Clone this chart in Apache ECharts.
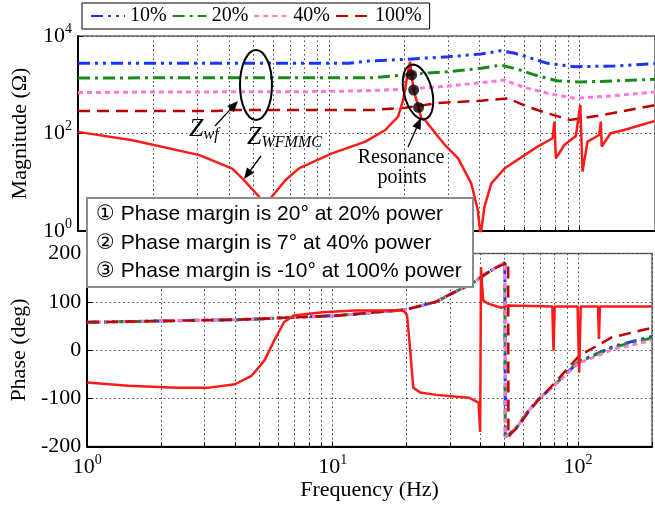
<!DOCTYPE html>
<html>
<head>
<meta charset="utf-8">
<script src="https://cdn.jsdelivr.net/npm/echarts@6/dist/echarts.min.js"></script>
<style>
	html, body {margin: 0; padding: 0; background: #fff;}
	#main {width: 655px; height: 508px;}
</style>
</head>
<body>
<div id="main"></div>
<script>
	// ---- magnitude (Ohm) ----
	var f10m = [1, 12, 14.4, 20.2, 30, 40.5, 48.6, 55.2, 66.3, 74.6, 95.5, 137, 200];
	var m10 = [2750, 2750, 3070, 3330, 3760, 4270, 5000, 4420, 3330, 2750, 2345, 2425, 2700];
	var f20m = [1, 15, 24, 30, 40.5, 48.6, 58, 66, 74.6, 81, 100, 137, 200];
	var m20 = [1380, 1400, 1720, 1850, 2175, 2540, 2000, 1600, 1355, 1210, 1140, 1195, 1300];
	var f40m = [1, 2, 8, 13, 20, 30, 40.5, 50, 60, 74.6, 95.5, 137, 200];
	var m40 = [690, 710, 720, 745, 807, 942, 1100, 1250, 887, 668, 527, 596, 710];
	var f100m = [1, 3.6, 4.0, 15, 20.2, 27, 40.5, 52, 62, 74.6, 91.5, 117, 200];
	var m100 = [290, 290, 303, 305, 338, 420, 471, 526, 355, 260, 190, 228, 380];
	var fWm = [1, 1.65, 3.05, 4.12, 4.52, 5.28, 5.57, 5.87, 6.73, 7.6, 10.3, 14.0, 16.8, 18.9, 19.8, 20.6, 21.1, 21.4, 21.8, 22.8, 23.4, 24.2, 27.3, 29.1, 32.8, 37.0, 39.3, 40.3, 41.8, 44.5, 50.3, 60.4, 68.1, 78.1, 79.4, 80.5, 87, 96.7, 100.7, 102.8, 107.6, 119.8, 121.6, 122.6, 133.1, 150.4, 200];
	var mW = [108, 73, 36, 19, 12, 5.0, 2.0, 4.75, 11.1, 19.3, 39, 68, 118, 221, 487, 1585, 2970, 1590, 780, 343, 205, 189, 86, 58, 31, 9.5, 2.7, 0.8, 3.15, 9.5, 19.3, 36, 54, 80, 175, 31, 58, 89, 385, 16.5, 68, 93, 175, 54, 101, 118, 180];
	// resonance points
	var resFreq = [21.4, 21.8, 22.8];
	var resMag = [1590, 780, 343];

	// ---- phase (deg) ----
	var fGp = [1, 4.26, 10.6, 20, 26.4, 30, 37, 41.8, 46, 50.3, 50.5, 53, 56.7, 62, 68, 81, 100, 140, 200];
	var p10 = [57.5, 63, 71.5, 84, 100, 115, 138, 157, 170, 181, -180, -172, -158, -130, -105, -70, -25, 8, 28];
	var p20 = [57.5, 63, 71.5, 84, 100, 115, 138, 157, 170, 181, -180, -172, -158, -130, -105, -70, -25, 6, 25];
	var p40 = [57.5, 63, 71.5, 84, 100, 115, 138, 157, 170, 181, -180, -172, -158, -130, -105, -71, -28, 2, 20];
	var f100p = [1, 4.26, 10.6, 20, 26.4, 30, 37, 41.8, 46, 51.9, 52.0, 53, 56.7, 62, 68, 81, 101, 137, 200];
	var p100 = [57.5, 63, 71.5, 84, 100, 115, 138, 157, 170, 182, -180, -175, -160, -132, -107, -66, -12, 26, 46];
	var fWp = [1, 1.47, 2.32, 3.14, 4.0, 4.67, 5.27, 5.77, 6.33, 6.93, 9.1, 12.3, 18.9, 19.6, 20.1, 20.7, 21.3, 22.7, 26.4, 36, 39.3, 39.8, 39.9, 40.2, 41, 43, 48.6, 50.5, 52, 78.5, 79.4, 80.3, 99.5, 101, 102.5, 120.5, 121.6, 122.7, 200];
	var pW = [-67.5, -74, -78, -78, -71, -53.5, -22, 19, 57.5, 71.5, 78, 82, 82, 80, 71.5, -1.5, -78, -88, -93, -99, -109, -110, -170, 172, 103, 96, 87.5, 90, 92, 90, -1.5, 90, 90, -47, 90, 90, 23, 90, 90];

	var legendNames = ['10%', '20%', '40%', '100%'];
	var lineColors = ['#1a33ff', '#1a8a1a', '#ff77dd', '#c00000'];
	var lineDash = [[12, 5, 3, 5, 3, 5], [12, 5, 3, 5], [5, 4], [12, 7]];
	var lineWidths = [3, 3, 3, 2.5];

	var serif = '"Liberation Serif", "Times New Roman", serif';
	var sans = '"Liberation Sans", Arial, "DejaVu Sans", sans-serif';

	function pairs(f, v) {
		return f.map(function(x, i) { return [x, v[i]]; });
	}

	function pow10Label(v) {
		var e = Math.log10(v);
		if (Math.abs(e - Math.round(e)) > 1e-6) return '';
		return '{b|10}{s|' + Math.round(e) + '}';
	}

	var powRich = {
		b: {fontFamily: serif, fontSize: 22, lineHeight: 28, color: '#000'},
		s: {fontFamily: serif, fontSize: 14, lineHeight: 14, verticalAlign: 'top', color: '#000'}
	};

	var dotted = {color: '#444', type: [1.5, 3], width: 1};

	function logX(idx, showLabels) {
		return {
			type: 'log', gridIndex: idx, min: 1, max: 200, logBase: 10,
			axisLine: {show: true, onZero: false, lineStyle: {color: '#000', width: 2}},
			axisTick: {show: true, inside: true, length: 5, lineStyle: {color: '#000'}},
			minorTick: {show: true, splitNumber: 9, length: 4, lineStyle: {color: '#000'}},
			splitLine: {show: true, lineStyle: dotted},
			minorSplitLine: {show: true, lineStyle: dotted},
			axisLabel: {show: showLabels, formatter: pow10Label, rich: powRich, margin: 7},
			name: showLabels ? 'Frequency (Hz)' : '',
			nameLocation: 'middle', nameGap: 33,
			nameTextStyle: {fontFamily: serif, fontSize: 22, color: '#000'}
		};
	}

	var series = [];
	legendNames.forEach(function(n, i) {
		var mf = [f10m, f20m, f40m, f100m][i];
		var mv = [m10, m20, m40, m100][i];
		series.push({
			name: n, type: 'line', xAxisIndex: 0, yAxisIndex: 0, symbol: 'none',
			data: pairs(mf, mv),
			lineStyle: {color: lineColors[i], width: lineWidths[i], type: lineDash[i]},
			itemStyle: {color: lineColors[i]}, z: 2 + i
		});
	});
	series.push({
		name: 'ZWFMMC', type: 'line', xAxisIndex: 0, yAxisIndex: 0, symbol: 'none',
		data: pairs(fWm, mW), lineStyle: {color: '#ff1a1a', width: 2.5}, z: 8
	});
	series.push({
		name: 'Resonance', type: 'scatter', xAxisIndex: 0, yAxisIndex: 0,
		data: pairs(resFreq, resMag), symbolSize: 11, itemStyle: {color: '#000'}, z: 10
	});
	legendNames.forEach(function(n, i) {
		var pf = [fGp, fGp, fGp, f100p][i];
		var pv = [p10, p20, p40, p100][i];
		series.push({
			name: n, type: 'line', xAxisIndex: 1, yAxisIndex: 1, symbol: 'none',
			data: pairs(pf, pv),
			lineStyle: {color: lineColors[i], width: lineWidths[i], type: lineDash[i]},
			itemStyle: {color: lineColors[i]}, z: 2 + i
		});
	});
	series.push({
		name: 'ZWFMMC phase', type: 'line', xAxisIndex: 1, yAxisIndex: 1, symbol: 'none',
		data: pairs(fWp, pW), lineStyle: {color: '#ff1a1a', width: 2.5}, z: 8
	});

	function arrow(x1, y1, x2, y2) {
		var a = Math.atan2(y2 - y1, x2 - x1), L = 11, W = 4.5;
		var bx = x2 - L * Math.cos(a), by = y2 - L * Math.sin(a);
		return [
			{type: 'line', shape: {x1: x1, y1: y1, x2: bx, y2: by}, style: {stroke: '#000', lineWidth: 1.3}, z: 50},
			{type: 'polygon', shape: {points: [[x2, y2], [bx + W * Math.sin(a), by - W * Math.cos(a)], [bx - W * Math.sin(a), by + W * Math.cos(a)]]}, style: {fill: '#000'}, z: 50}
		];
	}

	var zRich = {
		z: {fontFamily: serif, fontStyle: 'italic', fontSize: 26, lineHeight: 28, color: '#000'},
		s: {fontFamily: serif, fontStyle: 'italic', fontSize: 16, lineHeight: 16, verticalAlign: 'bottom', color: '#000'}
	};

	var graphics = [
		{type: 'ellipse', shape: {cx: 256, cy: 85, rx: 16, ry: 35}, style: {fill: 'none', stroke: '#000', lineWidth: 2}, z: 50},
		{type: 'ellipse', x: 418, y: 92, rotation: 0.25, shape: {cx: 0, cy: 0, rx: 14, ry: 28}, style: {fill: 'none', stroke: '#000', lineWidth: 2}, z: 50},
		{type: 'text', x: 189, y: 115, style: {text: '{z|Z}{s|wf}', rich: zRich}, z: 50},
		{type: 'text', x: 247, y: 123, style: {text: '{z|Z}{s|WFMMC}', rich: zRich}, z: 50},
		{type: 'text', x: 401, y: 158, style: {text: 'Resonance', font: '20px ' + serif, fill: '#000', align: 'center', verticalAlign: 'middle'}, z: 50},
		{type: 'text', x: 402, y: 178, style: {text: 'points', font: '20px ' + serif, fill: '#000', align: 'center', verticalAlign: 'middle'}, z: 50},
		{type: 'rect', shape: {x: 87, y: 198, width: 386, height: 89}, style: {fill: '#fff', stroke: '#8c8c8c', lineWidth: 2}, z: 60},
		{type: 'text', x: 96, y: 214, style: {text: '\u2460 Phase margin is 20\u00b0 at 20% power', font: '21px ' + sans, fill: '#000', verticalAlign: 'middle'}, z: 61},
		{type: 'text', x: 96, y: 243, style: {text: '\u2461 Phase margin is 7\u00b0 at 40% power', font: '21px ' + sans, fill: '#000', verticalAlign: 'middle'}, z: 61},
		{type: 'text', x: 96, y: 271, style: {text: '\u2462 Phase margin is -10\u00b0 at 100% power', font: '21px ' + sans, fill: '#000', verticalAlign: 'middle'}, z: 61}
	].concat(arrow(215, 126, 238, 101), arrow(261, 156, 244, 179), arrow(408, 147, 421, 118));

	var myChart = echarts.init(document.getElementById('main'));
	var option = {
		animation: false,
		backgroundColor: '#fff',
		legend: {
			data: legendNames, left: 82, top: 3, padding: [3, 8], itemGap: 5,
			itemWidth: 34, itemHeight: 14, borderColor: '#000', borderWidth: 1,
			itemStyle: {opacity: 0},
			textStyle: {fontFamily: serif, fontSize: 20, color: '#000'}
		},
		grid: [
			{left: 78, top: 36, width: 581, height: 195, show: true, borderColor: '#666', borderWidth: 1.5},
			{left: 78, top: 253.5, width: 581, height: 193, show: true, borderColor: '#666', borderWidth: 1.5}
		],
		xAxis: [logX(0, false), logX(1, true)],
		yAxis: [
			{
				type: 'log', gridIndex: 0, min: 1, max: 10000, interval: 2, logBase: 10,
				axisLine: {show: true, lineStyle: {color: '#000', width: 2}},
				axisTick: {show: true, inside: true, length: 5},
				splitLine: {show: true, lineStyle: dotted},
				axisLabel: {formatter: pow10Label, rich: powRich, margin: 6},
				name: 'Magnitude (\u03a9)', nameLocation: 'middle', nameGap: 47,
				nameTextStyle: {fontFamily: serif, fontSize: 22, color: '#000'}
			},
			{
				type: 'value', gridIndex: 1, min: -200, max: 200, interval: 100,
				axisLine: {show: true, lineStyle: {color: '#000', width: 2}},
				axisTick: {show: true, inside: true, length: 5},
				splitLine: {show: true, lineStyle: dotted},
				axisLabel: {fontFamily: serif, fontSize: 22, color: '#000', margin: 6},
				name: 'Phase (deg)', nameLocation: 'middle', nameGap: 47,
				nameTextStyle: {fontFamily: serif, fontSize: 22, color: '#000'}
			}
		],
		series: series,
		graphic: graphics
	};
	myChart.setOption(option);
</script>
</body>
</html>
